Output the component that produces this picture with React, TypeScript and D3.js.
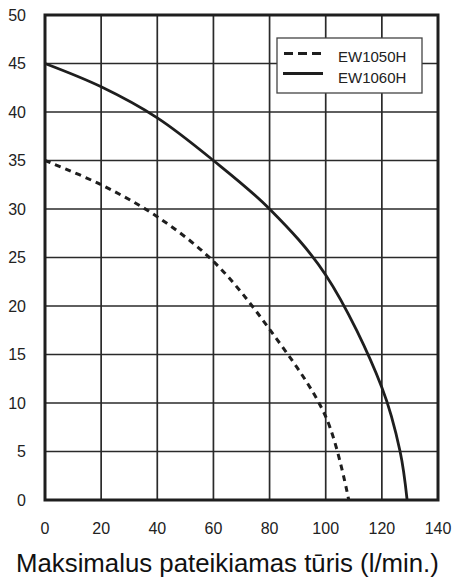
import * as d3 from "d3"

// flow (l/min) vs head (m)
const xTicks = [0, 20, 40, 60, 80, 100, 120, 140]
const yTicks = [0, 5, 10, 15, 20, 25, 30, 35, 40, 45, 50]

const ew1050Flow = [0, 20, 40, 60, 80, 100, 108.2]
const ew1050Head = [35, 32.5, 29.2, 24.6, 17.6, 8.6, 0]

const ew1060Flow = [0, 20, 40, 60, 80, 100, 120, 126.5, 129]
const ew1060Head = [45, 42.6, 39.4, 35, 30, 23.2, 11.6, 5, 0]

const seriesNames = ["EW1050H", "EW1060H"]
const xTitle = "Maksimalus pateikiamas tūris (l/min.)"

const W = 453
const H = 579
const plot = { left: 45, right: 438, top: 15, bottom: 500 }
const font = "'Liberation Sans', Arial, sans-serif"

export default function App() {
  const x = d3.scaleLinear().domain([0, 140]).range([plot.left, plot.right])
  const y = d3.scaleLinear().domain([0, 50]).range([plot.bottom, plot.top])

  const line = d3
    .line<[number, number]>()
    .x((d) => x(d[0]))
    .y((d) => y(d[1]))
    .curve(d3.curveCatmullRom.alpha(0.5))

  const dashedPts = ew1050Flow.map((f, i) => [f, ew1050Head[i]] as [number, number])
  const solidPts = ew1060Flow.map((f, i) => [f, ew1060Head[i]] as [number, number])

  const legend = { x: 277, y: 38, w: 145, h: 55 }

  return (
    <svg
      width={W}
      height={H}
      style={{ position: "absolute", left: 0, top: 0, background: "#fff" }}
      fontFamily={font}
    >
      {/* grid */}
      {xTicks.map((t) => (
        <line key={"gx" + t} x1={x(t)} x2={x(t)} y1={plot.top} y2={plot.bottom} stroke="#2a2a2a" strokeWidth={1.7} />
      ))}
      {yTicks.map((t) => (
        <line key={"gy" + t} x1={plot.left} x2={plot.right} y1={y(t)} y2={y(t)} stroke="#2a2a2a" strokeWidth={1.7} />
      ))}

      {/* curves */}
      <path d={line(dashedPts) ?? ""} fill="none" stroke="#1e1e1e" strokeWidth={3} strokeDasharray="6,5" />
      <path d={line(solidPts) ?? ""} fill="none" stroke="#1e1e1e" strokeWidth={2.8} />

      {/* frame */}
      <rect
        x={plot.left}
        y={plot.top}
        width={plot.right - plot.left}
        height={plot.bottom - plot.top}
        fill="none"
        stroke="#1e1e1e"
        strokeWidth={3}
      />

      {/* legend */}
      <rect x={legend.x} y={legend.y} width={legend.w} height={legend.h} fill="#fff" stroke="#444" strokeWidth={1.3} />
      <line x1={284} x2={323} y1={53.5} y2={53.5} stroke="#1e1e1e" strokeWidth={3} strokeDasharray="9,5" />
      <line x1={283} x2={323} y1={73.5} y2={73.5} stroke="#1e1e1e" strokeWidth={3} />
      {seriesNames.map((n, i) => (
        <text key={n} x={338} y={61.5 + i * 21} fontSize={15} fill="#222">
          {n}
        </text>
      ))}

      {/* tick labels */}
      {yTicks.map((t) => (
        <text key={"ty" + t} x={26} y={y(t)} dy="0.35em" textAnchor="end" fontSize={16} fill="#222">
          {t}
        </text>
      ))}
      {xTicks.map((t) => (
        <text key={"tx" + t} x={x(t)} y={533.5} textAnchor="middle" fontSize={16} fill="#222">
          {t}
        </text>
      ))}

      <text x={16} y={572} fontSize={25.8} fill="#111">
        {xTitle}
      </text>
    </svg>
  )
}
